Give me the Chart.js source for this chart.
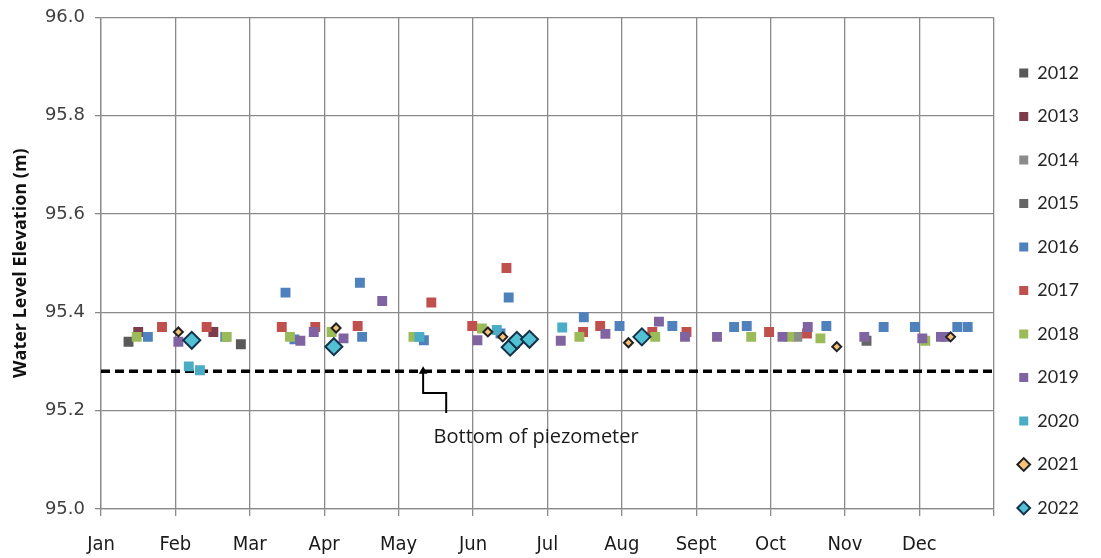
<!DOCTYPE html>
<html>
<head>
<meta charset="utf-8">
<script src="https://cdn.jsdelivr.net/npm/chart.js@4.4.0/dist/chart.umd.min.js"></script>
<style>
html,body{margin:0;padding:0;background:#fff;overflow:hidden;}
#wrap{width:1101px;height:558px;}
canvas{display:block;}
</style>
</head>
<body>
<div id="wrap"><canvas id="chart" width="1101" height="558"></canvas></div>
<script>
// axe des x : position en mois (0 = 1er janvier, 12 = fin decembre)
const mois = ['Jan','Feb','Mar','Apr','May','Jun','Jul','Aug','Sept','Oct','Nov','Dec',''];
const annees = ['2012','2013','2014','2015','2016','2017','2018','2019','2020','2021','2022'];

// niveaux [mois, niveau (m)]
const n2012 = [[0.37,95.34],[1.88,95.335]];
const n2013 = [[0.50,95.36],[1.51,95.36]];
const n2014 = [[9.36,95.35]];
const n2015 = [[10.29,95.342]];
const n2016 = [[0.63,95.35],[1.67,95.35],[2.48,95.44],[2.60,95.345],[3.48,95.46],[3.51,95.35],[4.34,95.343],
  [5.37,95.357],[5.48,95.43],[6.49,95.39],[6.97,95.372],[7.68,95.372],[8.51,95.37],[8.68,95.372],[9.75,95.372],
  [10.52,95.37],[10.94,95.37],[11.51,95.37],[11.65,95.37]];
const n2017 = [[0.82,95.37],[1.42,95.37],[2.43,95.37],[2.88,95.37],[3.45,95.372],[4.44,95.42],[4.99,95.372],
  [5.45,95.49],[6.48,95.36],[6.71,95.372],[7.41,95.36],[7.87,95.36],[8.98,95.36],[9.49,95.357]];
const n2018 = [[0.48,95.35],[1.69,95.35],[2.54,95.35],[3.10,95.36],[4.20,95.35],[5.12,95.367],[6.43,95.35],
  [7.45,95.35],[8.74,95.35],[9.25,95.35],[9.67,95.347],[11.08,95.342]];
const n2019 = [[1.04,95.34],[2.68,95.342],[2.86,95.36],[3.26,95.347],[3.78,95.423],[5.06,95.343],[6.18,95.342],
  [6.78,95.356],[7.50,95.381],[7.85,95.35],[8.28,95.35],[9.16,95.35],[9.50,95.37],[10.26,95.35],[11.04,95.347],
  [11.29,95.35],[11.35,95.35]];
const n2020 = [[1.18,95.29],[1.33,95.282],[4.28,95.35],[5.32,95.364],[6.20,95.369]];
const n2021 = [[1.04,95.36],[3.16,95.368],[5.20,95.36],[5.40,95.35],[7.09,95.338],[9.89,95.33],[11.42,95.35]];
const n2022 = [[1.22,95.343],[3.13,95.33],[5.50,95.329],[5.59,95.343],[5.76,95.345],[7.27,95.35]];
const niveaux = [n2012,n2013,n2014,n2015,n2016,n2017,n2018,n2019,n2020,n2021,n2022];

// fond du piezometre
const fondPiezo = 95.28;
const fleche = [[4.33,95.28],[4.33,95.236],[4.64,95.236],[4.64,95.195]];
const texteFleche = 'Bottom of piezometer';

const couleurs = ['#595959','#7d3c4b','#8c8c8c','#666666','#4f81bd','#c0504d','#9bbb59','#8064a2','#4bacc6','#f5c27a','#52c1d4'];
const bords    = ['#595959','#7d3c4b','#8c8c8c','#666666','#4f81bd','#c0504d','#9bbb59','#8064a2','#4bacc6','#222222','#15324a'];

const datasets = annees.map((a,i) => {
  const diamant = (i>=9);
  return {
    label: a,
    data: niveaux[i].map(p => ({x:p[0], y:p[1]})),
    pointStyle: diamant ? 'rectRot' : 'rect',
    pointRadius: i==10 ? 8.5 : (i==9 ? 4.5 : 7),
    pointBackgroundColor: couleurs[i],
    pointBorderColor: bords[i],
    backgroundColor: couleurs[i],
    borderColor: bords[i],
    pointBorderWidth: diamant ? 2 : 0,
    showLine: false,
    order: 20 - i
  };
});
datasets.push({
  label: '',
  data: [{x:0,y:fondPiezo},{x:12,y:fondPiezo}],
  type: 'line', borderColor:'#000', borderWidth:3.5, borderDash:[9,5],
  pointRadius:0, showLine:true, order: 40
});
datasets.push({
  label: '',
  data: fleche.map(p => ({x:p[0], y:p[1]})),
  type: 'line', borderColor:'#000', borderWidth:2, showLine:true,
  pointStyle:'triangle', pointRadius:[5,0,0,0], pointBackgroundColor:'#000', pointBorderWidth:0,
  order: 0
});

const texte = {
  id: 'texte',
  afterDatasetsDraw(chart){
    const c = chart.ctx;
    c.save();
    c.font = '20px "Open Sans"';
    c.fillStyle = '#1a1a1a';
    c.textBaseline = 'middle';
    c.fillText(texteFleche, chart.scales.x.getPixelForValue(4.47), chart.scales.y.getPixelForValue(95.146));
    c.restore();
  }
};

var ctx = document.getElementById('chart').getContext('2d');
var graph = new Chart(ctx, {
  type: 'scatter',
  data: { datasets: datasets },
  plugins: [texte],
  options: {
    responsive: false,
    devicePixelRatio: 1,
    animation: false,
    layout: { padding: { top: 17, right: 12, bottom: 0, left: 0 } },
    plugins: {
      tooltip: { enabled: false },
      legend: {
        position: 'right',
        align: 'start',
        title: { display: true, text: ' ', font: { size: 10, lineHeight: 1 }, padding: { top: 11.5, bottom: 0 } },
        labels: {
          usePointStyle: true,
          boxWidth: 9, boxHeight: 9,
          padding: 25.5,
          color: '#262626',
          font: { family: 'Lato', size: 18 },
          sort: (a,b) => a.datasetIndex - b.datasetIndex,
          filter: (it) => it.text !== ''
        }
      }
    },
    scales: {
      x: {
        type: 'linear', min: 0, max: 12,
        afterFit(s){ s.height = 558 - 509; },
        ticks: { stepSize: 1, padding: 17, color: '#1a1a1a', maxRotation: 0,
          font: { family: '"Liberation Sans Narrow", "DejaVu Sans Condensed"', size: 20 },
          callback: (v) => mois[v] },
        grid: { color: '#8a8a8a', lineWidth: 1.3, tickLength: 7 },
        border: { color: '#8a8a8a', width: 1.3 }
      },
      y: {
        min: 95.0, max: 96.0,
        afterFit(s){ s.width = 101; },
        ticks: { stepSize: 0.2, padding: 10, color: '#404040',
          font: { family: '"DejaVu Sans"', size: 18, lineHeight: 0.8 },
          callback: (v) => v.toFixed(1) },
        grid: { color: '#8a8a8a', lineWidth: 1.3, tickLength: 6 },
        border: { color: '#8a8a8a', width: 1.3 },
        title: { display: true, text: 'Water Level Elevation (m)', color: '#111',
          font: { family: '"Open Sans"', size: 18, weight: 'bold' }, padding: { top: 10, bottom: 0 } }
      }
    }
  }
});
</script>
</body>
</html>
